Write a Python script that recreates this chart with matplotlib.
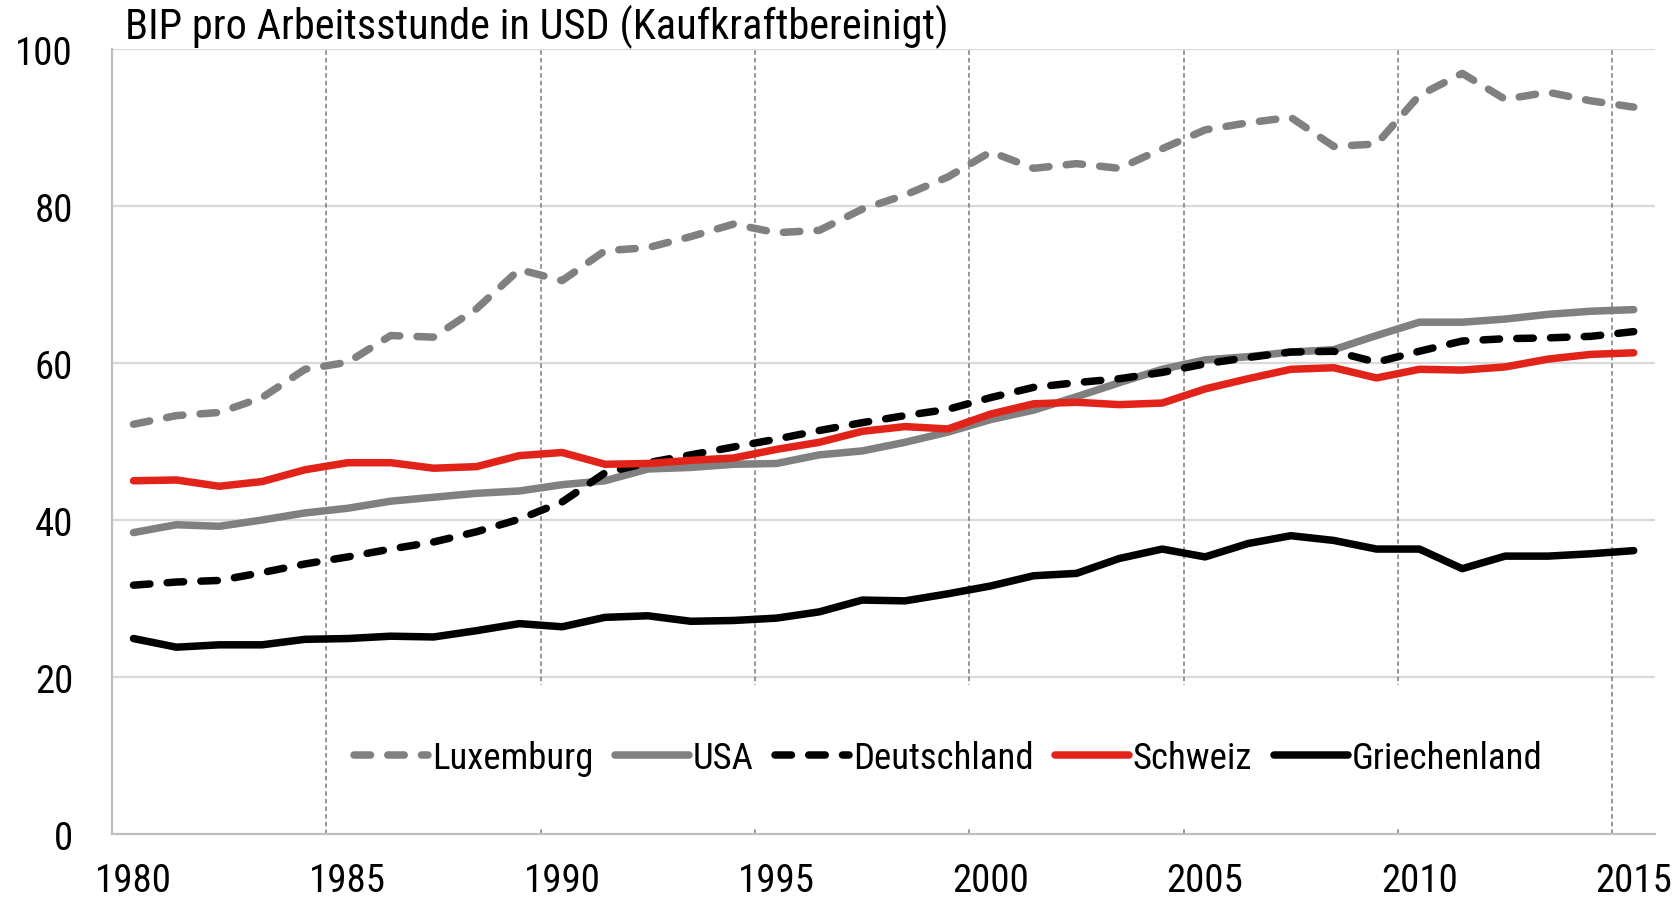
import matplotlib
matplotlib.use("Agg")
import matplotlib.pyplot as plt
from matplotlib.patches import Rectangle

# data (BIP pro Arbeitsstunde, USD PPP)
years = list(range(1980, 2016))
luxemburg = [52.2, 53.3, 53.7, 55.6, 59.2, 60.1, 63.5, 63.3, 66.9, 71.9,
             70.5, 74.3, 74.7, 76.1, 77.7, 76.6, 76.9, 79.6, 81.4, 83.7,
             86.9, 84.8, 85.4, 84.8, 87.3, 89.7, 90.6, 91.3, 87.6, 87.9,
             94.1, 96.9, 93.6, 94.5, 93.4, 92.6]
usa = [38.4, 39.4, 39.2, 40.0, 40.9, 41.5, 42.4, 42.9, 43.4, 43.7,
       44.5, 45.0, 46.5, 46.7, 47.1, 47.2, 48.3, 48.8, 49.9, 51.2,
       52.8, 54.0, 55.7, 57.5, 59.2, 60.4, 60.8, 61.4, 61.7, 63.5,
       65.2, 65.2, 65.6, 66.2, 66.6, 66.8]
deutschland = [31.7, 32.1, 32.3, 33.3, 34.4, 35.3, 36.3, 37.2, 38.5, 40.1,
               42.3, 46.0, 47.3, 48.3, 49.3, 50.3, 51.4, 52.4, 53.3, 54.1,
               55.6, 56.9, 57.5, 58.0, 58.8, 59.9, 60.7, 61.4, 61.5, 60.1,
               61.5, 62.8, 63.1, 63.2, 63.4, 64.0]
schweiz = [45.0, 45.1, 44.3, 44.9, 46.4, 47.3, 47.3, 46.6, 46.8, 48.2,
           48.6, 47.1, 47.2, 47.6, 47.9, 49.0, 49.9, 51.3, 51.9, 51.6,
           53.5, 54.8, 55.0, 54.7, 54.9, 56.7, 58.0, 59.2, 59.4, 58.1,
           59.2, 59.1, 59.5, 60.5, 61.1, 61.3]
griechenland = [24.9, 23.8, 24.1, 24.1, 24.8, 24.9, 25.2, 25.1, 25.9, 26.8,
                26.4, 27.6, 27.8, 27.1, 27.2, 27.5, 28.3, 29.8, 29.7, 30.6,
                31.6, 32.9, 33.2, 35.1, 36.3, 35.3, 37.0, 38.0, 37.4, 36.3,
                36.3, 33.8, 35.4, 35.4, 35.7, 36.1]

x_ticks = list(range(1980, 2016, 5))
y_ticks = [0, 20, 40, 60, 80, 100]
title = "BIP pro Arbeitsstunde in USD (Kaufkraftbereinigt)"

# narrow face if one is installed, otherwise Liberation Sans
plt.rcParams["font.family"] = ["Liberation Sans Narrow", "Roboto Condensed",
                               "DejaVu Sans Condensed", "Liberation Sans"]

fig = plt.figure(figsize=(16.8, 9.03), dpi=100)
ax = fig.add_axes([0.0667, 0.0753, 0.9185, 0.8693])

GREY = "#808080"
RED = "#e2231a"
LW = 5.4
DASH = (2.2, 2.3)

series = [
    ("Luxemburg", luxemburg, GREY, True),
    ("USA", usa, GREY, False),
    ("Deutschland", deutschland, "black", True),
    ("Schweiz", schweiz, RED, False),
    ("Griechenland", griechenland, "black", False),
]
for name, vals, col, dashed in series:
    ln, = ax.plot(years, vals, color=col, lw=LW, label=name, zorder=3,
                  solid_capstyle="round", dash_capstyle="round",
                  solid_joinstyle="round", dash_joinstyle="round")
    if dashed:
        ln.set_dashes(DASH)

# grid: light horizontal lines, dashed verticals between categories
for yv in y_ticks[1:]:
    ax.axhline(yv, color="#d9d9d9", lw=1.6, zorder=1)
for xv in x_ticks[1:]:
    ax.axvline(xv - 0.5, color="#7a7a7a", lw=1.1, ls=(0, (3, 2)), zorder=1)

# white legend area hides the verticals behind it
ax.add_patch(Rectangle((1984.9, 0.6), 2013.3 - 1984.9, 19.0 - 0.6,
                       facecolor="white", edgecolor="none", zorder=1.5))

ax.set_xlim(1979.5, 2015.5)
ax.set_ylim(0, 100)
ax.set_xticks(x_ticks)
ax.set_yticks(y_ticks)
ax.tick_params(length=0, labelsize=28)
ax.tick_params(axis="x", pad=20)
ax.tick_params(axis="y", pad=28)
for s in ["top", "right"]:
    ax.spines[s].set_visible(False)
for s in ["left", "bottom"]:
    ax.spines[s].set_color("#bfbfbf")
    ax.spines[s].set_linewidth(1.6)

ax.legend(loc="center", bbox_to_anchor=(0.542, 0.097), ncol=5, frameon=False,
          fontsize=26.5, handlelength=2.0, handletextpad=0.1, columnspacing=0.6)

fig.text(125 / 1680, 1 - 39 / 903, title, fontsize=30.5, ha="left", va="baseline")

fig.savefig("out.png", dpi=100)
